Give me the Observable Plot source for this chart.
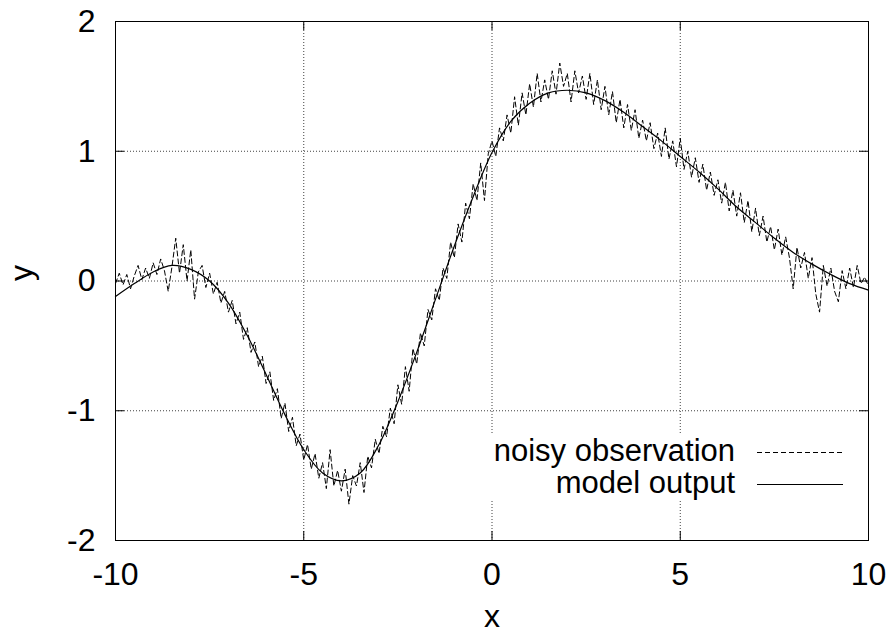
<!DOCTYPE html>
<html>
<head>
<meta charset="utf-8">
<script src="https://cdn.jsdelivr.net/npm/d3@7"></script>
<script src="https://cdn.jsdelivr.net/npm/@observablehq/plot@0.6"></script>
<style>
  html, body { margin: 0; padding: 0; background: #fff; }
  #wrap { position: relative; width: 894px; height: 635px; font-family: "Liberation Sans", Arial, Helvetica, sans-serif; }
  #legend { position: absolute; left: 476px; top: 433px; width: 379px; height: 67px; background: #fff; }
  .lrow { position: absolute; left: 0; width: 379px; height: 32px; }
  .ltext { position: absolute; right: 120px; top: 0; font-size: 31px; line-height: 32px; color: #000; white-space: nowrap; }
  .lsw { position: absolute; left: 281px; top: 0; }
</style>
</head>
<body>
<div id="wrap"><div id="legend"></div></div>
<script>
// Axis ticks / grid
const xTicks = [-10, -5, 0, 5, 10];
const yTicks = [-2, -1, 0, 1, 2];
const xGrid = [-5, 0, 5];
const yGrid = [-1, 0, 1];

// Model output (smooth curve), sampled every 0.5
const modelX = [-10,-9.5,-9,-8.5,-8,-7.5,-7,-6.5,-6,-5.5,-5,-4.5,-4,-3.5,-3,-2.5,-2,-1.5,-1,-0.5,0,0.5,1,1.5,2,2.5,3,3.5,4,4.5,5,5.5,6,6.5,7,7.5,8,8.5,9,9.5,10];
const modelY = [-0.12,-0.02,0.07,0.12,0.09,0.0,-0.17,-0.42,-0.72,-1.03,-1.30,-1.48,-1.54,-1.48,-1.26,-0.93,-0.55,-0.14,0.27,0.65,0.99,1.23,1.37,1.45,1.47,1.45,1.39,1.30,1.19,1.08,0.96,0.84,0.71,0.57,0.45,0.33,0.22,0.13,0.05,-0.02,-0.07];

// Noisy observation, read every 0.1 from x = -10 to 10
const noisyStart = -10;
const noisyStep = 0.1;
const noisyY = [
  -0.02, 0.06, -0.03, 0.05, -0.06, 0.04, 0.12, 0.01, 0.10, 0.02,
  0.14, 0.05, 0.17, 0.08, -0.08, 0.11, 0.33, 0.06, 0.28, 0.00,
  0.24, -0.14, 0.07, 0.12, -0.05, 0.06, -0.10, -0.01, -0.17, -0.08,
  -0.24, -0.15, -0.33, -0.24, -0.45, -0.36, -0.55, -0.47, -0.66, -0.58,
  -0.79, -0.70, -0.92, -0.83, -1.06, -0.94, -1.16, -1.05, -1.27, -1.18,
  -1.38, -1.26, -1.45, -1.33, -1.52, -1.40, -1.60, -1.30, -1.58, -1.46,
  -1.62, -1.45, -1.72, -1.50, -1.58, -1.40, -1.63, -1.35, -1.44, -1.22,
  -1.33, -1.12, -1.20, -0.98, -1.10, -0.80, -0.95, -0.66, -0.85, -0.52,
  -0.64, -0.40, -0.50, -0.22, -0.30, -0.06, -0.15, 0.10, 0.02, 0.30,
  0.18, 0.44, 0.30, 0.60, 0.48, 0.75, 0.62, 0.91, 0.62, 0.98,
  1.08, 0.96, 1.18, 1.08, 1.28, 1.14, 1.42, 1.20, 1.45, 1.28,
  1.52, 1.34, 1.60, 1.38, 1.55, 1.40, 1.62, 1.44, 1.68, 1.50,
  1.60, 1.38, 1.62, 1.45, 1.58, 1.40, 1.60, 1.36, 1.55, 1.32,
  1.50, 1.28, 1.46, 1.22, 1.40, 1.18, 1.36, 1.16, 1.32, 1.10,
  1.24, 1.08, 1.22, 1.02, 1.14, 0.96, 1.18, 0.94, 1.08, 0.88,
  1.10, 0.86, 1.00, 0.80, 0.95, 0.76, 0.90, 0.70, 0.84, 0.66,
  0.78, 0.60, 0.76, 0.54, 0.70, 0.50, 0.68, 0.45, 0.62, 0.38,
  0.56, 0.35, 0.50, 0.30, 0.42, 0.24, 0.40, 0.20, 0.34, 0.18,
  -0.06, 0.26, 0.10, 0.22, 0.02, 0.18, -0.10, -0.24, 0.12, -0.04,
  0.10, -0.08, -0.16, 0.08, -0.06, 0.10, -0.05, 0.12, -0.02, 0.03,
  -0.04
];

const legendLabels = ["noisy observation", "model output"];
const legendDash = ["5,3", "none"];
const xLabel = "x";
const yLabel = "y";

// Layout
const W = 894, H = 635;
const mL = 115, mR = 26, mT = 21, mB = 95;
const innerW = W - mL - mR, innerH = H - mT - mB;
const tickLen = 9;
const FS = 32;

const model = modelX.map((x, i) => ({x, y: modelY[i]}));
const noisy = noisyY.map((y, i) => ({x: noisyStart + i * noisyStep, y}));
const fmt = d => String(d);

const chart = Plot.plot({
  width: W, height: H,
  marginLeft: mL, marginRight: mR, marginTop: mT, marginBottom: mB,
  style: {fontFamily: '"Liberation Sans", Arial, Helvetica, sans-serif', fontSize: FS + "px", color: "#000", background: "#fff"},
  x: {domain: [-10, 10], label: null},
  y: {domain: [-2, 2], label: null},
  marks: [
    // grid
    Plot.ruleX(xGrid, {stroke: "#000", strokeWidth: 1, strokeDasharray: "1,2", strokeOpacity: 0.75}),
    Plot.ruleY(yGrid, {stroke: "#000", strokeWidth: 1, strokeDasharray: "1,2", strokeOpacity: 0.75}),
    // inward ticks (bottom, top, left, right)
    Plot.ruleX(xTicks, {stroke: "#000", insetTop: innerH - tickLen}),
    Plot.ruleX(xTicks, {stroke: "#000", insetBottom: innerH - tickLen}),
    Plot.ruleY(yTicks, {stroke: "#000", insetRight: innerW - tickLen}),
    Plot.ruleY(yTicks, {stroke: "#000", insetLeft: innerW - tickLen}),
    // axes labels
    Plot.axisX(xTicks, {tickSize: 0, tickPadding: 22, tickFormat: fmt, fontSize: FS, label: null}),
    Plot.axisY(yTicks, {tickSize: 0, tickPadding: 20, tickFormat: fmt, fontSize: FS, label: null}),
    // data
    Plot.line(noisy, {x: "x", y: "y", stroke: "#000", strokeWidth: 1, strokeDasharray: "5,3"}),
    Plot.line(model, {x: "x", y: "y", stroke: "#000", strokeWidth: 1.2, curve: "catmull-rom"}),
    // frame
    Plot.frame({stroke: "#000", strokeWidth: 1}),
    // axis titles
    Plot.text([xLabel], {frameAnchor: "bottom", text: d => d, dy: 76, fontSize: FS, lineAnchor: "middle"}),
    Plot.text([yLabel], {frameAnchor: "left", text: d => d, dx: -94, rotate: -90, fontSize: FS, lineAnchor: "middle"})
  ]
});

const wrap = document.getElementById("wrap");
wrap.insertBefore(chart, wrap.firstChild);

// Legend (opaque key box, lower right)
const legend = document.getElementById("legend");
legendLabels.forEach((lab, i) => {
  const row = document.createElement("div");
  row.className = "lrow";
  row.style.top = (2 + i * 32) + "px";
  const t = document.createElement("div");
  t.className = "ltext";
  t.textContent = lab;
  row.appendChild(t);
  const ns = "http://www.w3.org/2000/svg";
  const s = document.createElementNS(ns, "svg");
  s.setAttribute("class", "lsw");
  s.setAttribute("width", 86);
  s.setAttribute("height", 32);
  const ln = document.createElementNS(ns, "line");
  ln.setAttribute("x1", 0); ln.setAttribute("x2", 86);
  ln.setAttribute("y1", 17.5); ln.setAttribute("y2", 17.5);
  ln.setAttribute("stroke", "#000");
  ln.setAttribute("stroke-width", i === 0 ? 1 : 1.2);
  if (legendDash[i] !== "none") ln.setAttribute("stroke-dasharray", legendDash[i]);
  s.appendChild(ln);
  row.appendChild(s);
  legend.appendChild(row);
});
</script>
</body>
</html>
